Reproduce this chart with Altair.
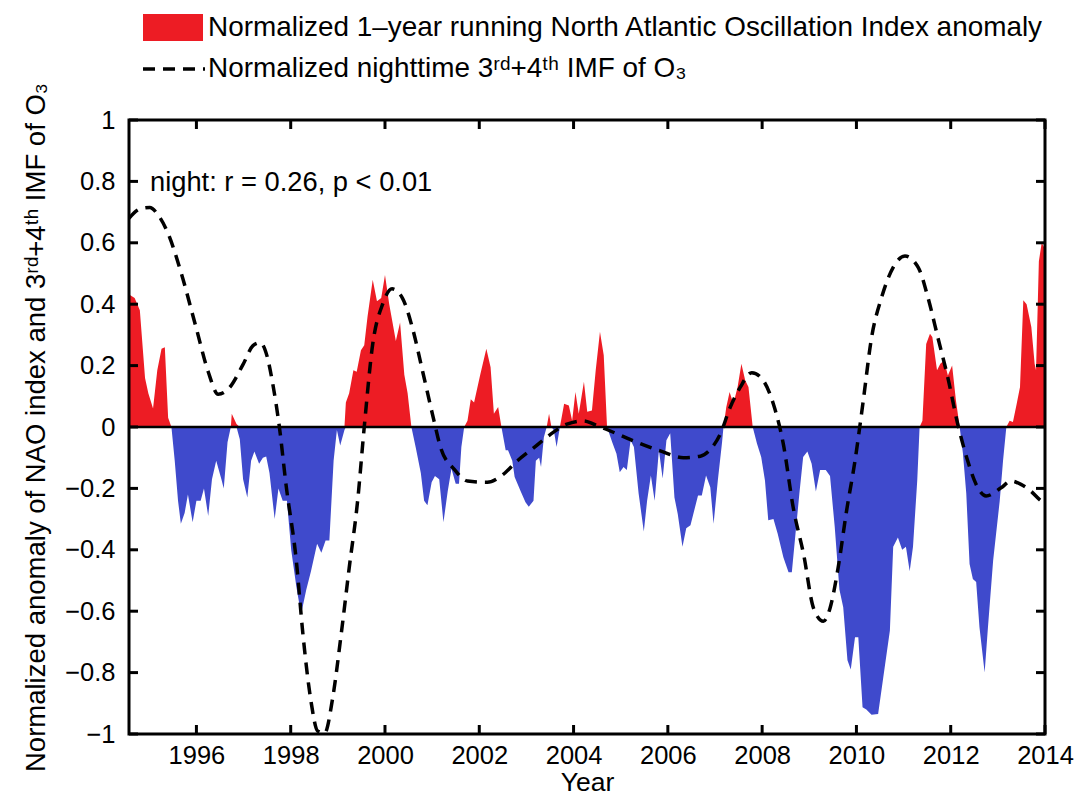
import altair as alt
import pandas as pd

# ---------------- data ----------------
nao_year = [
    1994.59, 1994.69, 1994.80, 1994.91, 1994.98, 1995.08, 1995.17, 1995.26, 1995.33, 1995.40,
    1995.47, 1995.54, 1995.61, 1995.67, 1995.75, 1995.82, 1995.92, 1996.00, 1996.09, 1996.16,
    1996.25, 1996.33, 1996.42, 1996.53, 1996.58, 1996.66, 1996.73, 1996.75, 1996.85, 1996.92,
    1996.99, 1997.08, 1997.16, 1997.23, 1997.33, 1997.41, 1997.48, 1997.55, 1997.66, 1997.74,
    1997.83, 1997.92, 1998.01, 1998.12, 1998.22, 1998.33, 1998.43, 1998.56, 1998.65, 1998.74,
    1998.82, 1998.91, 1998.98, 1999.05, 1999.14, 1999.17, 1999.24, 1999.33, 1999.40, 1999.49,
    1999.56, 1999.63, 1999.74, 1999.83, 1999.92, 2000.00, 2000.09, 2000.16, 2000.23, 2000.32,
    2000.41, 2000.48, 2000.56, 2000.65, 2000.76, 2000.83, 2000.90, 2000.99, 2001.06, 2001.15,
    2001.24, 2001.33, 2001.41, 2001.50, 2001.57, 2001.62, 2001.68, 2001.75, 2001.82, 2001.89,
    2002.02, 2002.15, 2002.24, 2002.31, 2002.40, 2002.47, 2002.56, 2002.61, 2002.70, 2002.75,
    2002.88, 2002.98, 2003.05, 2003.15, 2003.20, 2003.27, 2003.31, 2003.37, 2003.43, 2003.48,
    2003.53, 2003.58, 2003.64, 2003.71, 2003.80, 2003.90, 2003.97, 2004.04, 2004.11, 2004.22,
    2004.29, 2004.39, 2004.47, 2004.56, 2004.64, 2004.71, 2004.82, 2004.91, 2004.98, 2005.06,
    2005.13, 2005.21, 2005.28, 2005.38, 2005.49, 2005.56, 2005.64, 2005.72, 2005.81, 2005.89,
    2005.97, 2006.05, 2006.14, 2006.21, 2006.31, 2006.39, 2006.48, 2006.64, 2006.72, 2006.81,
    2006.90, 2006.97, 2007.06, 2007.15, 2007.18, 2007.24, 2007.31, 2007.39, 2007.48, 2007.56,
    2007.64, 2007.71, 2007.80, 2007.89, 2007.98, 2008.06, 2008.13, 2008.24, 2008.33, 2008.45,
    2008.56, 2008.63, 2008.70, 2008.79, 2008.87, 2008.96, 2009.05, 2009.14, 2009.23, 2009.35,
    2009.44, 2009.54, 2009.64, 2009.72, 2009.81, 2009.88, 2009.97, 2010.04, 2010.13, 2010.21,
    2010.32, 2010.46, 2010.57, 2010.71, 2010.78, 2010.88, 2010.97, 2011.05, 2011.13, 2011.20,
    2011.29, 2011.34, 2011.40, 2011.48, 2011.56, 2011.61, 2011.71, 2011.78, 2011.86, 2011.94,
    2012.03, 2012.11, 2012.19, 2012.26, 2012.33, 2012.40, 2012.47, 2012.54, 2012.61, 2012.72,
    2012.79, 2012.90, 2013.04, 2013.11, 2013.18, 2013.25, 2013.32, 2013.40, 2013.47, 2013.54,
    2013.61, 2013.71, 2013.78, 2013.81, 2013.87, 2013.93, 2014.00,
]
nao_value = [
    0.43, 0.42, 0.38, 0.16, 0.11, 0.06, 0.185, 0.255, 0.26, 0.03,
    0.0, -0.11, -0.24, -0.315, -0.28, -0.22, -0.31, -0.24, -0.24, -0.20,
    -0.29, -0.17, -0.11, -0.17, -0.20, -0.05, 0.0, 0.043, 0.01, -0.04,
    -0.17, -0.23, -0.11, -0.08, -0.12, -0.10, -0.096, -0.15, -0.30, -0.20,
    -0.24, -0.24, -0.40, -0.52, -0.61, -0.53, -0.47, -0.38, -0.41, -0.37,
    -0.37, -0.11, -0.01, -0.06, -0.01, 0.08, 0.11, 0.185, 0.18, 0.25,
    0.266, 0.36, 0.48, 0.41, 0.42, 0.495, 0.40, 0.34, 0.28, 0.34,
    0.17, 0.11, 0.0, -0.065, -0.15, -0.24, -0.255, -0.18, -0.16, -0.17,
    -0.31, -0.21, -0.136, -0.185, -0.185, -0.065, 0.0, 0.02, 0.09, 0.08,
    0.17, 0.255, 0.195, 0.043, 0.065, 0.0, -0.076, -0.076, -0.11, -0.163,
    -0.21, -0.245, -0.26, -0.24, -0.11, -0.10, -0.13, -0.033, 0.0, 0.043,
    0.0, -0.01, -0.065, 0.0, 0.076, 0.07, 0.02, 0.114, 0.043, 0.147,
    0.05, 0.054, 0.185, 0.31, 0.234, 0.0, -0.05, -0.087, -0.147, -0.13,
    -0.14, -0.043, -0.065, -0.217, -0.34, -0.24, -0.158, -0.24, -0.076, -0.168,
    -0.043, -0.02, -0.23, -0.283, -0.39, -0.33, -0.32, -0.223, -0.223, -0.158,
    -0.196, -0.315, -0.174, -0.05, 0.0, 0.065, 0.114, 0.076, 0.13, 0.206,
    0.152, 0.13, 0.0, -0.054, -0.098, -0.174, -0.304, -0.30, -0.348, -0.424,
    -0.473, -0.473, -0.36, -0.217, -0.098, -0.08, -0.12, -0.21, -0.14, -0.14,
    -0.16, -0.326, -0.53, -0.587, -0.76, -0.79, -0.685, -0.685, -0.913, -0.92,
    -0.937, -0.935, -0.815, -0.663, -0.39, -0.36, -0.40, -0.39, -0.47, -0.39,
    -0.174, 0.0, 0.02, 0.27, 0.304, 0.293, 0.185, 0.206, 0.217, 0.168,
    0.20, 0.087, 0.0, -0.087, -0.217, -0.446, -0.495, -0.505, -0.652, -0.80,
    -0.652, -0.435, -0.24, -0.11, 0.0, 0.02, 0.016, 0.076, 0.13, 0.413,
    0.40, 0.326, 0.206, 0.185, 0.54, 0.60, 0.58,
]

imf_year = [
    1994.57, 1994.80, 1995.01, 1995.19, 1995.40, 1995.68, 1996.00, 1996.25, 1996.46, 1996.70,
    1996.99, 1997.20, 1997.35, 1997.50, 1997.62, 1997.76, 1997.90, 1998.12, 1998.26, 1998.43,
    1998.57, 1998.72, 1998.89, 1999.07, 1999.24, 1999.42, 1999.56, 1999.74, 1999.95, 2000.15,
    2000.37, 2000.58, 2000.80, 2001.04, 2001.18, 2001.47, 2001.75, 2002.17, 2002.46, 2002.81,
    2003.16, 2003.51, 2003.86, 2004.22, 2004.43, 2004.78, 2005.28, 2005.84, 2006.33, 2006.69,
    2006.90, 2007.11, 2007.32, 2007.53, 2007.78, 2008.03, 2008.24, 2008.45, 2008.66, 2008.88,
    2009.09, 2009.30, 2009.44, 2009.61, 2009.79, 2009.97, 2010.14, 2010.32, 2010.53, 2010.78,
    2011.03, 2011.31, 2011.52, 2011.73, 2011.94, 2012.15, 2012.36, 2012.54, 2012.75, 2013.07,
    2013.28, 2013.49, 2013.70, 2013.88, 2014.00,
]
imf_value = [
    0.68, 0.71, 0.715, 0.69, 0.63, 0.50, 0.32, 0.18, 0.107, 0.128,
    0.204, 0.265, 0.275, 0.23, 0.14, 0.0, -0.187, -0.437, -0.676, -0.893,
    -0.99, -0.997, -0.883, -0.676, -0.46, -0.24, 0.0, 0.27, 0.40, 0.45,
    0.42, 0.324, 0.18, 0.02, -0.067, -0.138, -0.176, -0.18, -0.16, -0.11,
    -0.067, -0.024, 0.009, 0.02, 0.009, -0.013, -0.046, -0.078, -0.10, -0.095,
    -0.073, -0.024, 0.063, 0.128, 0.177, 0.15, 0.074, -0.056, -0.263, -0.415,
    -0.59, -0.633, -0.59, -0.46, -0.274, -0.11, 0.08, 0.29, 0.42, 0.52,
    0.557, 0.52, 0.42, 0.29, 0.16, 0.009, -0.11, -0.187, -0.225, -0.198,
    -0.176, -0.187, -0.209, -0.236, -0.25,
]

x_ticks = [1996, 1998, 2000, 2002, 2004, 2006, 2008, 2010, 2012, 2014]
y_ticks = [-1, -0.8, -0.6, -0.4, -0.2, 0, 0.2, 0.4, 0.6, 0.8, 1]

legend_nao = "Normalized 1\u2013year running North Atlantic Oscillation Index anomaly"
legend_imf = "Normalized nighttime 3\u02b3\u1d48+4\u1d57\u02b0 IMF of O\u2083"
annotation = "night: r = 0.26, p < 0.01"
x_title = "Year"
y_title = "Normalized anomaly of NAO index and 3\u02b3\u1d48+4\u1d57\u02b0 IMF of O\u2083"

RED = "#ED1C24"
BLUE = "#3F4ACC"
FONT = "Liberation Sans, Arial, Helvetica, sans-serif"

W, H = 916, 614
TICK = 9

nao = pd.DataFrame({"year": nao_year, "value": nao_value})
imf = pd.DataFrame({"year": imf_year, "value": imf_value})
xt = pd.DataFrame({"year": x_ticks})
yt = pd.DataFrame({"value": y_ticks})
one = pd.DataFrame({"k": [0]})

xscale = alt.Scale(domain=[1994.57, 2014], nice=False, zero=False)
yscale = alt.Scale(domain=[-1, 1], nice=False, zero=False)

x_axis = alt.Axis(values=x_ticks, format="d", title=x_title, ticks=False, domain=False,
                  grid=False, labelFontSize=25.5, labelPadding=9, labelFont=FONT,
                  labelColor="black", titleFont=FONT, titleFontSize=26.5,
                  titleFontWeight="normal", titleColor="black", titlePadding=1,
                  labelFlush=False)
y_axis = alt.Axis(values=y_ticks, format=".1~f", title=y_title, ticks=False, domain=False,
                  grid=False, labelFontSize=25.5, labelPadding=14, labelFont=FONT,
                  labelColor="black", titleFont=FONT, titleFontSize=27.5,
                  titleFontWeight="normal", titleColor="black", titlePadding=14)

X = alt.X("year:Q", scale=xscale, axis=x_axis)
Y = alt.Y("value:Q", scale=yscale, axis=y_axis)

base = alt.Chart(nao).transform_calculate(
    pos="max(datum.value, 0)", neg="min(datum.value, 0)"
)
area_pos = base.mark_area(color=RED, opacity=1, clip=True).encode(
    x=X, y=alt.Y("pos:Q", scale=yscale, axis=y_axis), y2=alt.datum(0)
)
area_neg = base.mark_area(color=BLUE, opacity=1, clip=True).encode(
    x=X, y=alt.Y("neg:Q", scale=yscale, axis=y_axis), y2=alt.datum(0)
)

zero_line = alt.Chart(one).mark_rule(color="black", strokeWidth=2.5).encode(
    x=alt.value(0), x2=alt.value(W), y=alt.datum(0)
)

imf_line = alt.Chart(imf).mark_line(
    color="black", strokeWidth=3.5, strokeDash=[12, 8], interpolate="monotone", clip=True
).encode(x=X, y=Y)

tick_bottom = alt.Chart(xt).mark_rule(color="black", strokeWidth=3).encode(
    x=X, y=alt.value(H), y2=alt.value(H - TICK)
)
tick_top = alt.Chart(xt).mark_rule(color="black", strokeWidth=3).encode(
    x=X, y=alt.value(0), y2=alt.value(TICK)
)
tick_left = alt.Chart(yt).mark_rule(color="black", strokeWidth=3).encode(
    y=Y, x=alt.value(0), x2=alt.value(TICK)
)
tick_right = alt.Chart(yt).mark_rule(color="black", strokeWidth=3).encode(
    y=Y, x=alt.value(W), x2=alt.value(W - TICK)
)

frame = alt.Chart(one).mark_rect(filled=False, stroke="black", strokeWidth=3).encode(
    x=alt.value(0), x2=alt.value(W), y=alt.value(0), y2=alt.value(H)
)

note = alt.Chart(one).mark_text(
    text=annotation, align="left", baseline="middle", font=FONT, fontSize=27.3, color="black"
).encode(x=alt.value(21), y=alt.value(63))

leg_rect = alt.Chart(one).mark_rect(color=RED).encode(
    x=alt.value(14), x2=alt.value(74), y=alt.value(-106), y2=alt.value(-79)
)
leg_text1 = alt.Chart(one).mark_text(
    text=legend_nao, align="left", baseline="middle", font=FONT, fontSize=27.9, color="black"
).encode(x=alt.value(79), y=alt.value(-92))
leg_dash = alt.Chart(one).mark_rule(color="black", strokeWidth=3.5, strokeDash=[12, 8]).encode(
    x=alt.value(14), x2=alt.value(76), y=alt.value(-51)
)
leg_text2 = alt.Chart(one).mark_text(
    text=legend_imf, align="left", baseline="middle", font=FONT, fontSize=27.9, color="black"
).encode(x=alt.value(79), y=alt.value(-51))

chart = alt.layer(
    area_pos, area_neg, zero_line, imf_line,
    tick_bottom, tick_top, tick_left, tick_right, frame,
    note, leg_rect, leg_text1, leg_dash, leg_text2,
).properties(
    width=W, height=H,
    autosize=alt.AutoSizeParams(type="none"),
    padding={"left": 129, "top": 120, "right": 35, "bottom": 64},
).configure_view(stroke=None).configure(background="white")

chart.save("out.html", embed_options={"renderer": "svg", "actions": False})
